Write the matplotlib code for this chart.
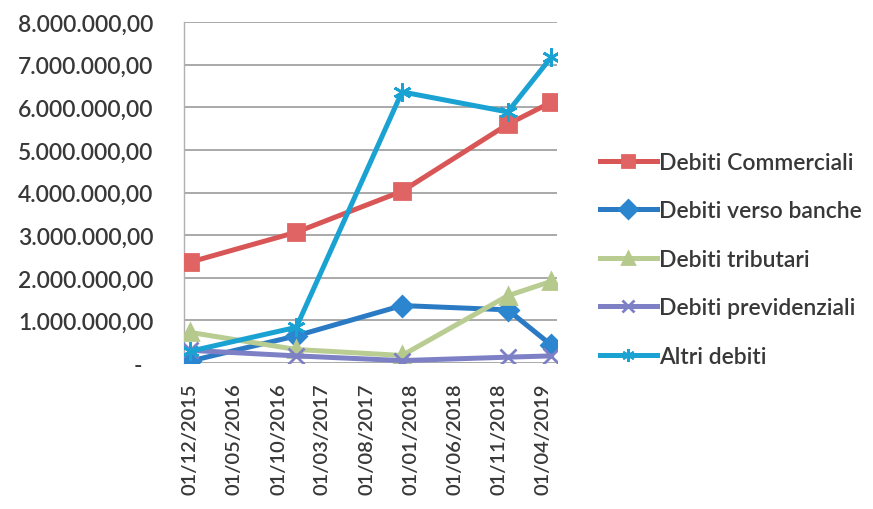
import matplotlib
matplotlib.use("Agg")
import matplotlib.pyplot as plt
import matplotlib.dates as mdates
import pandas as pd
from matplotlib.ticker import FuncFormatter

# dates of the balance snapshots
date_points = ["2015-12-01", "2016-12-01", "2017-12-01", "2018-12-01", "2019-05-01"]

# debts per category (euro)
debiti_commerciali = [2370000, 3070000, 4030000, 5600000, 6120000]
debiti_banche = [50000, 640000, 1350000, 1250000, 420000]
debiti_tributari = [720000, 320000, 180000, 1580000, 1920000]
debiti_previdenziali = [300000, 170000, 60000, 140000, 170000]
altri_debiti = [280000, 840000, 6360000, 5890000, 7180000]

tick_dates = ["2015-12-01", "2016-05-01", "2016-10-01", "2017-03-01", "2017-08-01",
              "2018-01-01", "2018-06-01", "2018-11-01", "2019-04-01"]

x = pd.to_datetime(date_points)
ticks = pd.to_datetime(tick_dates)

plt.rcParams['font.family'] = ['Lato', 'DejaVu Sans']
plt.rcParams['font.weight'] = 'semibold'
txt_color = '#383838'
fs = 16.5

fig = plt.figure(figsize=(8.73, 5.10), dpi=100)
ax = fig.add_axes([0.211, 0.286, 0.427, 0.669])

# series: (values, label, line colour, marker, marker colour, marker size)
series = [
    (debiti_commerciali, 'Debiti Commerciali', '#D95656', 's', '#E06464', 12),
    (debiti_banche, 'Debiti verso banche', '#2B7BC4', 'D', '#2B85CF', 10),
    (debiti_tributari, 'Debiti tributari', '#B9CC92', '^', '#B5C98C', 11),
    (debiti_previdenziali, 'Debiti previdenziali', '#7E80C6', 'x', '#7E80C6', 11),
    (altri_debiti, 'Altri debiti', '#1AA2D2', (6, 2, 0), '#1AA2D2', 13),
]
for vals, label, col, mk, mcol, ms in series:
    ax.plot(x, vals, color=col, lw=3.6, marker=mk, markersize=ms,
            markerfacecolor=mcol, markeredgecolor=mcol, markeredgewidth=2,
            label=label, solid_joinstyle='round', zorder=3)

ax.set_ylim(0, 8000000)
ax.set_yticks(range(0, 8000001, 1000000))
ax.set_xlim(pd.Timestamp("2015-11-10"), pd.Timestamp("2019-05-20"))
ax.set_xticks(ticks)
ax.xaxis.set_major_formatter(mdates.DateFormatter('%d/%m/%Y'))


def it_format(v, pos):
    if v == 0:
        return '-  '
    s = f"{v:,.2f}"
    return s.replace(',', 'X').replace('.', ',').replace('X', '.')


ax.yaxis.set_major_formatter(FuncFormatter(it_format))
ax.grid(axis='y', color='#A3A3A3', lw=1.3, zorder=0)
for side in ['top', 'right', 'bottom']:
    ax.spines[side].set_visible(False)
ax.spines['left'].set_color('#B0B0B0')
ax.spines['left'].set_linewidth(1.0)

ax.tick_params(axis='y', length=0, pad=22, labelsize=fs, labelcolor=txt_color)
ax.tick_params(axis='x', length=0, pad=14, labelsize=14.5, labelcolor=txt_color,
               labelrotation=90)

leg = ax.legend(loc='center left', bbox_to_anchor=(1.09, 0.305), frameon=False,
                fontsize=fs, handlelength=2.5, handletextpad=0.1,
                labelspacing=1.2, borderaxespad=0)
for t in leg.get_texts():
    t.set_color(txt_color)
for h in leg.legend_handles:
    h.set_markersize(9)

fig.savefig("out.png", dpi=100)
